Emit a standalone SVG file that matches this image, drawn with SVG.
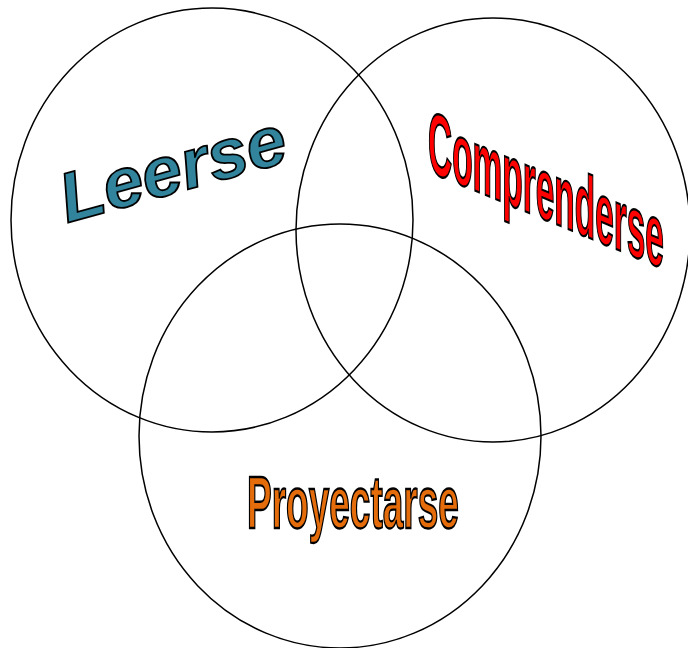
<svg xmlns="http://www.w3.org/2000/svg" width="688" height="648" viewBox="0 0 688 648">
<style>
.c{fill:none;stroke:#000;stroke-width:1.5}
.w{font-family:"Liberation Sans",Arial,sans-serif;font-weight:bold;stroke:#000;stroke-width:1.8;vector-effect:non-scaling-stroke}
</style>
<rect width="688" height="648" fill="#fff"/>
<g id="circle-leerse"><ellipse class="c" cx="212" cy="220" rx="201" ry="212"/></g>
<g id="circle-comprenderse"><ellipse class="c" cx="493" cy="230" rx="197" ry="212"/></g>
<g id="circle-proyectarse"><ellipse class="c" cx="340" cy="436" rx="201" ry="212"/></g>
<g id="label-leerse"><text class="w" x="0" y="0" font-size="70" font-style="italic" fill="#31849B" transform="translate(67,223) rotate(-15.5) scale(1.03,1)">Leerse</text></g>
<g id="label-comprenderse"><text class="w" x="0" y="0" font-size="88" fill="#FF0000" transform="translate(428,171) skewY(22.5) scale(0.38,1)">Comprenderse</text></g>
<g id="label-proyectarse"><text class="w" x="0" y="0" font-size="74" fill="#E46C0A" transform="translate(247,528) scale(0.5,1)">Proyectarse</text></g>
</svg>
